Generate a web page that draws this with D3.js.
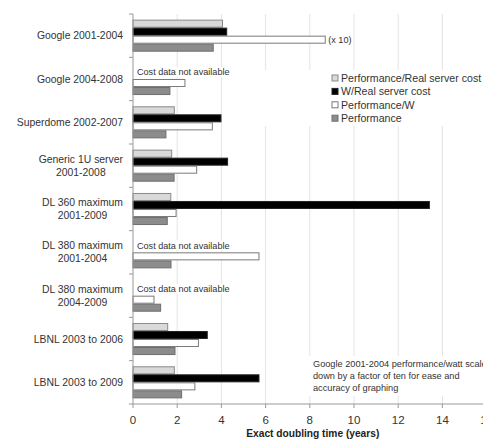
<!DOCTYPE html>
<html>
<head>
<meta charset="utf-8">
<script src="https://cdn.jsdelivr.net/npm/d3@7"></script>
<style>
  body { margin: 0; background: #fff; }
  svg { display: block; font-family: "Liberation Sans", Arial, sans-serif; }
</style>
</head>
<body>
<svg id="chart" width="483" height="439"></svg>
<script>
// categories, top to bottom
var categories = [
  'Google 2001-2004',
  'Google 2004-2008',
  'Superdome 2002-2007',
  'Generic 1U server|2001-2008',
  'DL 360 maximum|2001-2009',
  'DL 380 maximum|2001-2004',
  'DL 380 maximum|2004-2009',
  'LBNL 2003 to 2006',
  'LBNL 2003 to 2009'
];

var seriesNames = ['Performance/Real server cost', 'W/Real server cost', 'Performance/W', 'Performance'];

// doubling times in years (null = cost data not available)
var perfPerCost = [4.05, null, 1.87, 1.75, 1.71, null, null, 1.57, 1.87];
var wattPerCost = [4.24, null, 3.98, 4.28, 13.41, null, null, 3.36, 5.70];
var perfPerWatt = [8.7, 2.35, 3.59, 2.88, 1.95, 5.70, 0.95, 2.96, 2.80]; // Google 2001-2004 shown /10
var performance = [3.63, 1.67, 1.49, 1.86, 1.55, 1.72, 1.25, 1.90, 2.20];

var xTicks = [0, 2, 4, 6, 8, 10, 12, 14, 16];
var noCostLabel = 'Cost data not available';
var noteLines = ['Google 2001-2004 performance/watt scaled', 'down by a factor of ten for ease and', 'accuracy of graphing'];
var xTitle = 'Exact doubling time (years)';

var series = [perfPerCost, wattPerCost, perfPerWatt, performance];
var fills = ['#d9d9d9', '#000000', '#ffffff', '#8c8c8c'];
var strokes = ['#8a8a8a', '#222222', '#7a7a7a', '#6e6e6e'];

var margin = {top: 14, left: 133, bottom: 35};
var svg = d3.select('#chart');
var W = 483, H = 439;
var plotBottom = H - margin.bottom;

var x = d3.scaleLinear().domain([0, 16]).range([margin.left, margin.left + 16 * 22.1]);
var y = d3.scaleBand().domain(categories).range([margin.top, plotBottom]).paddingInner(0.26).paddingOuter(0.13);
var ySub = d3.scaleBand().domain(d3.range(4)).range([0, y.bandwidth()]);

// gridlines
svg.append('g')
  .selectAll('line')
  .data(xTicks.filter(t => t > 0))
  .enter()
  .append('line')
  .attr('x1', d => x(d)).attr('x2', d => x(d))
  .attr('y1', margin.top).attr('y2', plotBottom)
  .attr('stroke', '#e4e4e4')
  .attr('stroke-width', 1);

// white boxes behind the legend and notes (hide gridlines like the original)
var masks = svg.append('g');

// bars
var rows = [];
categories.forEach((c, i) => {
  series.forEach((s, j) => {
    if (s[i] !== null) rows.push({cat: c, s: j, v: s[i]});
  });
});

svg.append('g')
  .selectAll('rect')
  .data(rows)
  .enter()
  .append('rect')
  .attr('x', x(0))
  .attr('y', d => y(d.cat) + ySub(d.s) + 0.5)
  .attr('width', d => x(d.v) - x(0))
  .attr('height', ySub.bandwidth() - 1)
  .attr('fill', d => fills[d.s])
  .attr('stroke', d => strokes[d.s])
  .attr('stroke-width', 1);

// "cost data not available" notes
categories.forEach((c, i) => {
  if (perfPerCost[i] === null && wattPerCost[i] === null) {
    var ty = y(c) + ySub(0) + ySub.bandwidth() + 1;
    var t = svg.append('text')
      .attr('x', x(0) + 4)
      .attr('y', ty)
      .attr('dy', '0.35em')
      .attr('font-size', 9.1)
      .attr('fill', '#333')
      .text(noCostLabel);
    var bb = t.node().getBBox();
    masks.append('rect').attr('x', bb.x - 1).attr('y', bb.y).attr('width', bb.width + 2).attr('height', bb.height).attr('fill', '#fff');
  }
});

// (x 10) marker
svg.append('text')
  .attr('x', x(perfPerWatt[0]) + 3)
  .attr('y', y(categories[0]) + ySub(2) + ySub.bandwidth() / 2)
  .attr('dy', '0.35em')
  .attr('font-size', 9.1)
  .attr('fill', '#333')
  .text('(x 10)');

// axes
svg.append('line')
  .attr('x1', x(0)).attr('x2', x(0))
  .attr('y1', margin.top).attr('y2', plotBottom)
  .attr('stroke', '#999');
svg.append('line')
  .attr('x1', x(0)).attr('x2', W)
  .attr('y1', plotBottom).attr('y2', plotBottom)
  .attr('stroke', '#999');

var bounds = d3.range(categories.length + 1).map(k => margin.top + k * y.step());
svg.append('g')
  .selectAll('line')
  .data(bounds)
  .enter()
  .append('line')
  .attr('x1', x(0) - 4).attr('x2', x(0))
  .attr('y1', d => d).attr('y2', d => d)
  .attr('stroke', '#999');

svg.append('g')
  .selectAll('line')
  .data(xTicks)
  .enter()
  .append('line')
  .attr('x1', d => x(d)).attr('x2', d => x(d))
  .attr('y1', plotBottom).attr('y2', plotBottom + 4)
  .attr('stroke', '#999');

svg.append('g')
  .selectAll('text')
  .data(xTicks)
  .enter()
  .append('text')
  .attr('x', d => x(d))
  .attr('y', plotBottom + 16)
  .attr('dy', '0.35em')
  .attr('text-anchor', 'middle')
  .attr('font-size', 11.5)
  .attr('fill', '#333')
  .text(d => d);

svg.append('text')
  .attr('x', (x(0) + x(16)) / 2 + 3)
  .attr('y', plotBottom + 29)
  .attr('dy', '0.35em')
  .attr('text-anchor', 'middle')
  .attr('font-size', 10.2)
  .attr('font-weight', 'bold')
  .attr('fill', '#222')
  .text(xTitle);

// category labels
var labelRight = x(0) - 10;
categories.forEach(c => {
  var lines = c.split('|');
  var cy = y(c) + y.bandwidth() / 2;
  var g = svg.append('g');
  var texts = lines.map((l, k) => g.append('text')
    .attr('y', cy + (k - (lines.length - 1) / 2) * 13)
    .attr('dy', '0.35em')
    .attr('font-size', 10.4)
    .attr('fill', '#333')
    .attr('text-anchor', 'middle')
    .text(l));
  var maxW = d3.max(texts, t => t.node().getComputedTextLength());
  texts.forEach(t => t.attr('x', labelRight - maxW / 2));
});

// legend
var legX = 332, legY = 78, legStep = 13.4;
masks.append('rect').attr('x', 262).attr('y', 70).attr('width', W - 262).attr('height', 56).attr('fill', '#fff');
var leg = svg.append('g')
  .selectAll('g')
  .data(seriesNames)
  .enter()
  .append('g')
  .attr('transform', (d, i) => 'translate(' + legX + ',' + (legY + i * legStep) + ')');
leg.append('rect')
  .attr('x', 0).attr('y', -3)
  .attr('width', 6).attr('height', 6)
  .attr('fill', (d, i) => fills[i])
  .attr('stroke', (d, i) => strokes[i])
  .attr('stroke-width', 1);
leg.append('text')
  .attr('x', 9)
  .attr('dy', '0.35em')
  .attr('font-size', 10.6)
  .attr('fill', '#333')
  .text(d => d);

// scaling note
var note = svg.append('g');
noteLines.forEach((l, k) => {
  note.append('text')
    .attr('x', 313)
    .attr('y', 364 + k * 12)
    .attr('dy', '0.35em')
    .attr('font-size', 9.2)
    .attr('fill', '#333')
    .text(l);
});
masks.append('rect').attr('x', 308).attr('y', 356).attr('width', W - 308).attr('height', 40).attr('fill', '#fff');
</script>
</body>
</html>
